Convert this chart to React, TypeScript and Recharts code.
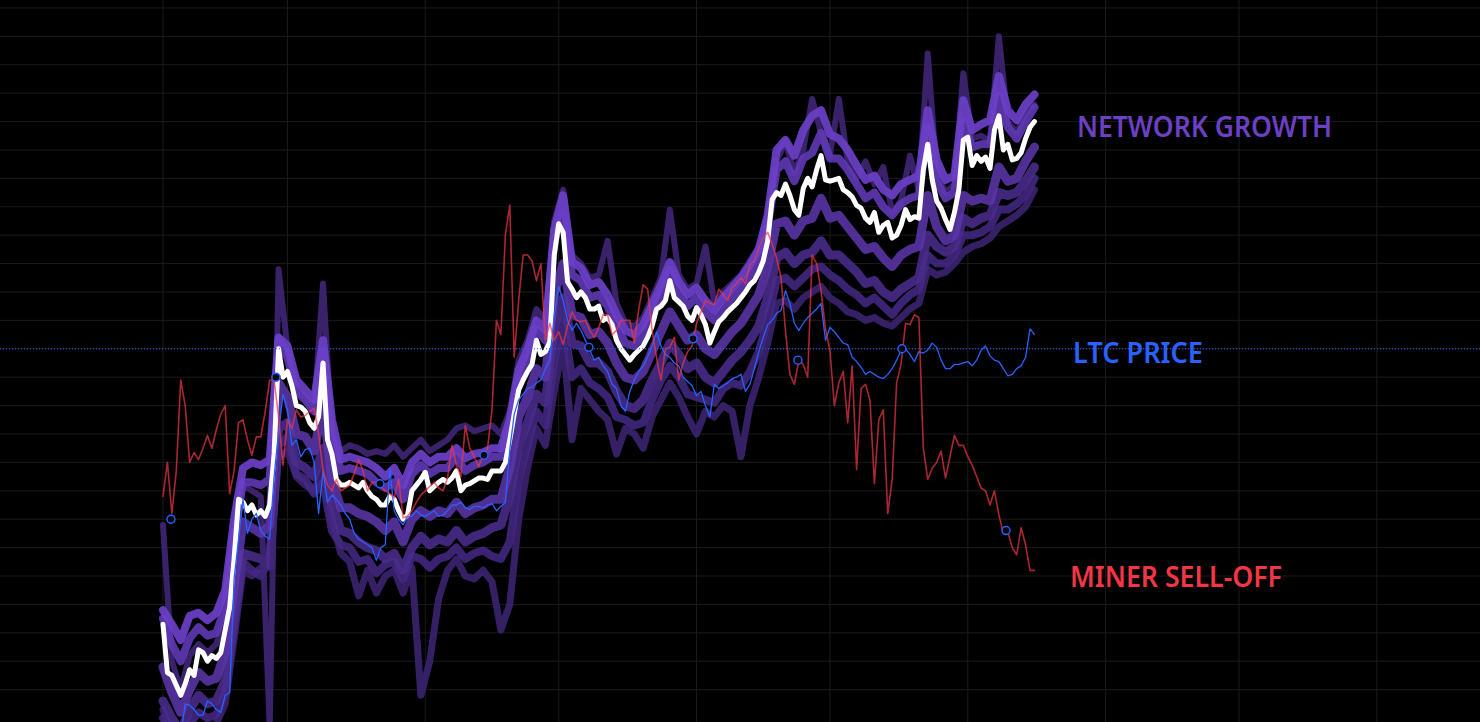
import React from "react";
import { ComposedChart, Line, Scatter, XAxis, YAxis, CartesianGrid, ReferenceLine } from "recharts";

// x: days since 1 Feb (daily); y: chart level units (one grid step = 1)
const days = [
  0, 1, 2, 3, 4, 5, 6, 7, 8, 9, 10, 11, 12, 13, 14, 15, 16, 17, 18, 19,
  20, 21, 22, 23, 24, 25, 26, 27, 28, 29, 30, 31, 32, 33, 34, 35, 36, 37, 38, 39,
  40, 41, 42, 43, 44, 45, 46, 47, 48, 49, 50, 51, 52, 53, 54, 55, 56, 57, 58, 59,
  60, 61, 62, 63, 64, 65, 66, 67, 68, 69, 70, 71, 72, 73, 74, 75, 76, 77, 78, 79,
  80, 81, 82, 83, 84, 85, 86, 87, 88, 89, 90, 91, 92, 93, 94, 95, 96, 97, 98, 99,
  100, 101, 102, 103, 104, 105, 106, 107, 108, 109, 110, 111, 112, 113, 114, 115, 116, 117, 118, 119,
  120, 121, 122, 123, 124, 125, 126, 127, 128, 129, 130, 131, 132, 133, 134, 135, 136, 137, 138, 139,
  140, 141, 142, 143, 144, 145, 146, 147, 148, 149, 150, 151, 152, 153, 154, 155, 156, 157, 158, 159,
  160, 161, 162, 163, 164, 165, 166, 167, 168, 169, 170, 171, 172, 173, 174, 175, 176, 177, 178, 179,
  180, 181, 182, 183, 184, 185, 186, 187, 188, 189, 190, 191, 192, 193, 194, 195, 196,
];

// daily series
const networkGrowth = [
  3.3, 1.6, 1.5, 1.15, 0.8, 1.2, 1.7, 1.5, 2.4, 2.3, 2.0, 2.2, 2.1, 2.3, 3.1, 3.9, 5.6, 7.7, 7.6, 7.3,
  7.5, 7.15, 7.3, 7.1, 7.5, 9.3, 13.0, 12.0, 12.2, 11.7, 11.0, 10.95, 10.8, 10.4, 10.2, 10.6, 12.5, 9.8, 9.3, 8.4,
  8.2, 8.2, 8.3, 8.2, 8.1, 8.3, 8.0, 7.8, 7.7, 7.5, 7.5, 7.8, 7.7, 7.3, 7.0, 7.15, 8.0, 8.2, 8.4, 8.65,
  8.0, 8.15, 8.3, 8.4, 8.3, 8.45, 8.7, 8.0, 8.2, 8.25, 8.35, 8.45, 8.45, 8.4, 8.7, 8.7, 8.7, 9.0, 9.8, 10.7,
  11.55, 11.9, 12.2, 12.45, 13.3, 12.8, 12.9, 13.25, 16.3, 17.4, 17.1, 15.35, 15.1, 14.8, 15.0, 14.8, 14.4, 14.4, 14.5, 14.0,
  14.1, 13.85, 13.3, 13.0, 12.8, 12.6, 12.8, 12.95, 13.1, 13.4, 13.8, 14.4, 14.5, 14.7, 15.4, 14.8, 14.65, 14.5, 14.15, 14.0,
  14.45, 14.2, 13.85, 13.2, 13.6, 13.95, 14.1, 14.3, 14.45, 14.6, 14.8, 15.0, 15.25, 15.4, 15.7, 16.1, 16.8, 18.25, 18.5, 18.4,
  18.8, 18.4, 17.9, 17.7, 18.65, 19.0, 18.7, 19.3, 19.8, 18.95, 18.9, 18.95, 19.0, 18.6, 18.5, 18.35, 18.05, 17.95, 17.6, 17.45,
  17.8, 17.1, 17.35, 17.45, 16.9, 17.0, 17.35, 17.9, 17.55, 17.65, 17.6, 19.3, 20.2, 18.95, 18.2, 17.95, 17.55, 17.2, 17.8, 18.6,
  20.35, 20.45, 19.45, 19.8, 19.6, 19.75, 19.35, 20.7, 21.2, 20.0, 20.2, 19.65, 19.7, 19.9, 20.4, 20.8, 21.0,
];

const ltcPrice = [
  -0.4, -0.5, -0.4, -0.3, -0.6, 0.5, 0.45, 0.3, 0.1, 0.1, 0.6, 0.5, 0.3, 0.2, 0.8, 0.9, 4.9, 6.3, 7.7, 6.5,
  7.0, 7.2, 6.6, 6.4, 6.3, 8.5, 10.1, 11.4, 10.85, 9.6, 9.8, 9.2, 9.45, 9.5, 9.0, 7.2, 8.7, 7.6, 7.85, 7.7,
  7.5, 7.2, 7.0, 6.5, 6.3, 6.2, 6.1, 6.0, 5.55, 6.0, 6.1, 8.8, 7.3, 7.0, 6.8, 7.1, 7.1, 7.3, 7.15, 7.1,
  7.2, 7.3, 7.1, 7.15, 7.3, 7.5, 7.5, 7.6, 7.4, 7.35, 7.45, 7.45, 7.4, 7.5, 7.55, 7.3, 7.45, 7.6, 9.45, 10.7,
  11.2, 11.4, 11.6, 11.65, 11.8, 11.9, 12.3, 12.6, 14.2, 15.2, 14.7, 14.0, 13.65, 13.9, 13.65, 13.3, 12.95, 12.6, 12.7, 12.4,
  12.2, 11.75, 11.6, 11.0, 10.8, 11.5, 11.9, 12.2, 12.4, 12.7, 13.1, 13.6, 13.1, 12.8, 12.7, 12.5, 12.4, 12.0, 11.85, 11.7,
  11.35, 11.5, 11.0, 10.6, 11.75, 11.6, 11.7, 11.8, 11.95, 12.0, 12.1, 11.5, 11.75, 12.3, 12.9, 13.4, 13.85, 14.0, 14.25, 14.35,
  15.05, 14.6, 13.9, 13.65, 13.9, 14.1, 14.25, 14.4, 14.6, 13.3, 13.75, 13.6, 13.4, 13.2, 13.15, 12.7, 12.55, 12.35, 12.1, 12.2,
  12.1, 12.0, 11.95, 12.1, 12.3, 12.6, 12.95, 13.0, 12.8, 12.55, 12.9, 12.85, 12.95, 13.2, 13.05, 12.6, 12.3, 12.3, 12.45, 12.45,
  12.5, 12.55, 12.4, 12.6, 12.95, 13.1, 12.75, 12.6, 12.55, 12.3, 12.05, 12.1, 12.3, 12.4, 12.7, 13.7, 13.5,
];

const minerSellOff = [
  7.8, 9.0, 7.2, 8.7, 11.9, 11.0, 9.0, 9.35, 9.1, 9.5, 9.95, 9.5, 10.15, 10.7, 11.0, 7.9, 8.7, 10.4, 10.5, 9.8,
  9.25, 9.9, 9.9, 10.8, 11.9, 11.9, 10.6, 8.9, 10.5, 10.2, 10.85, 10.6, 10.65, 10.8, 10.9, 10.0, 8.7, 8.2, 8.0, 8.4,
  8.0, 8.1, 8.2, 8.6, 9.1, 8.7, 8.0, 8.3, 8.3, 8.15, 8.0, 7.9, 7.75, 8.4, 7.05, 7.1, 7.3, 7.6, 7.85, 8.0,
  8.15, 8.3, 8.1, 8.0, 8.45, 9.6, 8.9, 8.5, 10.3, 9.5, 9.2, 8.85, 9.25, 9.5, 10.85, 14.0, 13.5, 17.0, 18.05, 12.7,
  14.7, 16.3, 16.3, 16.1, 15.4, 16.0, 13.3, 13.9, 13.3, 13.6, 13.15, 13.8, 14.3, 14.0, 13.95, 14.0, 13.65, 13.4, 13.75, 14.2,
  14.2, 13.5, 13.65, 14.0, 14.0, 14.0, 13.2, 14.4, 15.25, 15.1, 13.65, 12.7, 11.9, 13.0, 13.05, 13.4, 11.9, 12.5, 12.9, 13.1,
  13.9, 14.3, 14.7, 14.6, 14.55, 15.1, 14.9, 14.7, 15.15, 15.3, 15.5, 15.3, 15.95, 16.1, 16.55, 16.9, 17.1, 16.7, 16.2, 15.5,
  13.65, 12.1, 11.75, 12.6, 12.45, 12.0, 16.3, 16.0, 15.05, 13.7, 12.95, 11.0, 11.8, 12.2, 10.4, 12.4, 8.75, 11.6, 11.75, 11.2,
  8.25, 10.5, 10.85, 7.2, 8.4, 11.8, 12.45, 13.9, 13.85, 14.2, 14.1, 9.5, 8.4, 8.8, 9.0, 9.4, 8.45, 9.2, 9.95, 9.6,
  9.6, 9.2, 8.9, 8.5, 8.1, 8.0, 7.5, 8.0, 7.15, 6.5, 6.55, 6.0, 5.75, 6.7, 6.1, 5.2, 5.2,
];

// network-growth band components (every second day: 0, 2, 4 ... 196)
const bandUpper = [
  3.8, 3.3, 2.75, 3.6, 3.7, 3.45, 3.7, 4.5, 7.0, 8.8,
  9.0, 8.9, 9.1, 13.4, 13.1, 11.9, 11.55, 11.2, 13.3, 10.5,
  9.1, 9.2, 9.1, 9.0, 8.8, 8.5, 8.8, 8.2, 9.0, 9.3,
  9.0, 9.2, 9.2, 9.5, 9.15, 9.3, 9.35, 9.5, 9.5, 10.5,
  12.25, 13.0, 14.0, 13.65, 17.2, 18.4, 16.05, 15.85, 15.25, 15.35,
  14.9, 14.2, 13.65, 13.5, 13.85, 14.55, 15.25, 16.05, 15.35, 14.9,
  15.15, 14.7, 14.35, 14.8, 15.15, 15.5, 15.95, 16.5, 17.7, 20.0,
  20.35, 19.8, 20.7, 21.2, 21.4, 20.55, 20.4, 20.0, 19.45, 18.95,
  19.1, 18.6, 18.4, 18.8, 18.95, 19.1, 21.4, 19.65, 18.95, 19.1,
  21.75, 20.7, 20.9, 21.05, 22.6, 21.4, 21.05, 21.6, 21.95,
];

const bandUpperInner = [
  3.5, 2.6, 2.0, 2.8, 3.2, 2.9, 3.0, 3.9, 6.4, 8.3,
  8.3, 8.2, 8.4, 13.3, 12.7, 11.5, 11.2, 10.8, 12.9, 9.9,
  8.7, 8.8, 8.7, 8.6, 8.3, 8.1, 8.3, 7.7, 8.6, 8.9,
  8.6, 8.8, 8.8, 9.2, 8.7, 8.9, 9.0, 9.2, 9.2, 10.2,
  11.9, 12.6, 13.7, 13.3, 16.8, 17.8, 15.6, 15.4, 14.8, 14.9,
  14.5, 13.8, 13.2, 13.1, 13.5, 14.2, 14.9, 15.8, 15.0, 14.5,
  14.8, 14.3, 14.0, 14.4, 14.8, 15.1, 15.6, 16.1, 17.3, 19.3,
  19.6, 18.9, 19.7, 19.9, 20.6, 19.7, 19.7, 19.3, 18.8, 18.3,
  18.5, 18.0, 17.7, 18.1, 18.3, 18.4, 20.8, 18.9, 18.3, 18.5,
  21.0, 20.1, 20.2, 20.2, 21.9, 20.8, 20.4, 21.0, 21.5,
];

const bandMid = [
  1.8, 0.9, 0.2, 1.0, 1.6, 1.3, 1.4, 2.3, 4.6, 6.9,
  6.7, 6.5, 6.8, 11.8, 11.3, 10.0, 9.9, 9.4, 11.0, 8.4,
  7.4, 7.4, 7.2, 7.1, 6.9, 6.6, 6.9, 6.2, 7.0, 7.3,
  7.1, 7.3, 7.2, 7.6, 7.2, 7.4, 7.5, 7.7, 7.7, 8.8,
  10.6, 11.3, 12.3, 12.0, 14.9, 16.0, 14.2, 14.1, 13.5, 13.6,
  13.2, 12.5, 12.0, 11.9, 12.2, 12.9, 13.6, 14.3, 13.8, 13.3,
  13.5, 13.0, 12.8, 13.2, 13.6, 13.9, 14.4, 14.9, 15.9, 17.4,
  17.5, 17.0, 17.5, 17.6, 18.3, 17.6, 17.7, 17.3, 16.9, 16.5,
  16.6, 16.2, 15.9, 16.3, 16.5, 16.6, 18.4, 17.3, 16.8, 17.0,
  18.4, 18.2, 18.3, 18.2, 19.4, 18.9, 19.0, 19.6, 20.1,
];

const bandLow = [
  0.6, 0.0, -0.5, 0.3, 0.8, 0.5, 0.6, 1.3, 3.6, 5.8,
  5.7, 5.6, 5.4, 10.2, 10.4, 9.0, 8.8, 8.5, 9.5, 7.6,
  6.6, 6.5, 6.2, 6.0, 5.9, 5.6, 5.8, 5.2, 6.0, 6.4,
  6.1, 6.3, 6.2, 6.6, 6.2, 6.4, 6.5, 6.7, 6.8, 7.8,
  9.6, 10.4, 11.4, 11.1, 13.8, 14.8, 13.2, 13.1, 12.5, 12.5,
  12.2, 11.5, 11.0, 10.9, 11.2, 11.9, 12.5, 13.2, 12.8, 12.3,
  12.5, 12.0, 11.8, 12.2, 12.6, 12.9, 13.3, 13.8, 14.8, 16.2,
  16.4, 16.0, 16.3, 16.4, 16.8, 16.3, 16.3, 16.0, 15.7, 15.3,
  15.4, 15.0, 14.8, 15.1, 15.3, 15.5, 17.0, 16.6, 16.4, 16.6,
  17.6, 17.4, 17.6, 17.7, 18.5, 18.4, 18.5, 18.9, 19.4,
];

const bandLowInner = [
  0.0, -0.3, -0.6, -0.2, 0.2, 0.0, 0.1, 0.9, 3.2, 5.5,
  5.2, 5.0, 5.6, 9.6, 9.9, 8.6, 8.4, 7.9, 8.3, 6.6,
  6.1, 6.0, 5.5, 5.6, 5.1, 5.4, 5.5, 4.9, 5.7, 5.6,
  5.3, 5.6, 5.7, 6.0, 5.6, 5.8, 5.9, 5.7, 5.6, 6.2,
  8.4, 9.6, 10.8, 10.3, 12.6, 14.0, 12.0, 12.3, 11.8, 11.6,
  11.3, 10.6, 10.5, 10.3, 10.4, 11.2, 11.9, 12.4, 12.0, 11.4,
  11.3, 11.2, 11.1, 11.6, 11.8, 11.7, 12.2, 12.9, 14.0, 15.4,
  15.5, 15.2, 15.5, 15.8, 15.9, 15.6, 15.4, 15.1, 14.9, 14.6,
  14.8, 14.5, 14.2, 14.6, 14.9, 15.1, 16.3, 16.0, 16.0, 16.3,
  17.0, 17.0, 17.1, 17.3, 17.9, 17.9, 18.1, 18.4, 19.0,
];

const bandFloor = [
  0.3, -0.6, -0.8, -0.5, -0.3, -0.4, -0.2, 0.5, 2.8, 5.2,
  5.0, 5.3, 5.3, 9.2, 9.4, 8.5, 8.2, 8.0, 8.8, 7.0,
  5.8, 5.5, 4.3, 5.2, 4.4, 5.0, 5.2, 4.4, 5.3, 0.8,
  2.0, 4.2, 5.2, 5.6, 5.0, 4.9, 5.2, 4.8, 3.1, 4.0,
  7.0, 8.8, 10.2, 9.6, 11.5, 13.2, 9.8, 11.6, 11.2, 10.8,
  10.5, 9.3, 10.2, 10.0, 9.5, 10.6, 11.2, 11.8, 11.3, 10.6,
  10.0, 10.8, 10.6, 11.0, 10.8, 9.2, 11.0, 12.0, 13.2, 14.6,
  14.7, 14.4, 14.8, 15.0, 15.2, 14.8, 14.6, 14.3, 14.2, 14.0,
  14.1, 13.9, 13.8, 14.1, 14.4, 14.6, 15.8, 15.6, 15.7, 16.0,
  16.4, 16.6, 16.7, 16.9, 17.3, 17.5, 17.7, 18.0, 18.6,
];

const bandSpikes = [
  6.8, 2.0, 1.0, 2.2, 2.6, 2.3, 2.6, 3.6, 6.2, 8.2,
  8.0, 7.8, -0.3, 15.8, 13.0, 11.5, 11.3, 10.8, 15.3, 9.8,
  9.4, 9.6, 9.5, 9.3, 9.4, 9.3, 9.6, 9.2, 9.5, 9.8,
  9.4, 9.6, 9.8, 10.2, 10.3, 10.1, 10.2, 10.3, 10.0, 10.8,
  12.6, 13.3, 14.4, 14.0, 17.5, 18.6, 16.3, 16.0, 15.5, 15.6,
  16.8, 14.6, 13.9, 13.8, 14.1, 14.8, 15.5, 17.9, 15.6, 15.1,
  15.3, 16.6, 14.6, 15.0, 15.3, 15.6, 16.1, 16.6, 17.6, 19.6,
  20.3, 19.2, 20.0, 21.8, 20.6, 19.8, 21.8, 19.6, 19.0, 19.6,
  18.8, 19.4, 17.8, 18.2, 19.8, 18.6, 23.4, 19.2, 18.5, 18.8,
  22.7, 20.4, 20.5, 20.3, 24.0, 21.0, 20.6, 21.3, 21.6,
];

const markerDays = [1.8, 25.4, 48.8, 72.2, 95.8, 119.2, 142.8, 166.2, 189.6];
const markerValues = [7.0, 12.0, 8.25, 9.25, 13.05, 13.35, 12.6, 13.0, 6.6];

const monthTicks = [0, 28, 59, 89, 120, 150, 181, 212, 242, 273];
const levelTicks = [0, 1, 2, 3, 4, 5, 6, 7, 8, 9, 10, 11, 12, 13, 14, 15, 16, 17, 18, 19, 20, 21, 22, 23, 24, 25];
const ltcLevel = 13;
const xDomain = [-36.65, 296.2];
const yDomain = [-0.14, 25.28];

const band = (arr: number[], i: number) => (i % 2 === 0 ? arr[i / 2] : null);

const rows = days.map((day, i) => ({
  day,
  white: networkGrowth[i],
  ltc: ltcPrice[i],
  miner: minerSellOff[i],
  upper: band(bandUpper, i),
  upperInner: band(bandUpperInner, i),
  mid: band(bandMid, i),
  low: band(bandLow, i),
  lowInner: band(bandLowInner, i),
  floor: band(bandFloor, i),
  spikes: band(bandSpikes, i),
}));

const markers = markerDays.map((day, i) => ({ day, v: markerValues[i] }));

const W = 1480;
const H = 722;

const MarkerShape = (props: any) => {
  if (props.cx == null || props.cy == null) return null;
  return <circle cx={props.cx} cy={props.cy} r={4} fill="#05070e" stroke="#2962ff" strokeWidth={1.4} />;
};

const labelFont = "'Noto Sans', 'Open Sans', sans-serif";

export default function App() {
  const common = {
    dot: false,
    activeDot: false,
    isAnimationActive: false,
    connectNulls: true,
    type: "linear" as const,
    strokeLinejoin: "round" as const,
    strokeLinecap: "round" as const,
  };
  return (
    <div style={{ position: "absolute", left: 0, top: 0, width: W, height: H, background: "#000", overflow: "hidden" }}>
      <ComposedChart width={W} height={H} data={rows} margin={{ top: 0, right: 0, bottom: 0, left: 0 }} style={{ background: "#000" }}>
        <CartesianGrid stroke="#1b1b1b" strokeWidth={1} verticalValues={monthTicks} horizontalValues={levelTicks} />
        <XAxis dataKey="day" type="number" domain={xDomain} allowDataOverflow hide ticks={monthTicks} />
        <YAxis type="number" domain={yDomain} allowDataOverflow hide ticks={levelTicks} />
        <Line {...common} dataKey="floor" stroke="#3b2370" strokeOpacity={0.9} strokeWidth={7} />
        <Line {...common} dataKey="lowInner" stroke="#432883" strokeOpacity={0.88} strokeWidth={8} />
        <Line {...common} dataKey="low" stroke="#4a2c8c" strokeOpacity={0.88} strokeWidth={9} />
        <Line {...common} dataKey="spikes" stroke="#3f2676" strokeOpacity={0.9} strokeWidth={6} />
        <Line {...common} dataKey="mid" stroke="#5a35a8" strokeOpacity={0.88} strokeWidth={9} />
        <Line {...common} dataKey="upperInner" stroke="#5f38b5" strokeOpacity={0.9} strokeWidth={8} />
        <Line {...common} dataKey="upper" stroke="#6b40c8" strokeOpacity={0.92} strokeWidth={8} />
        <Line {...common} dataKey="white" stroke="#ffffff" strokeWidth={5} />
        <Line {...common} dataKey="ltc" stroke="#2962ff" strokeWidth={1.3} />
        <Line {...common} dataKey="miner" stroke="#f23645" strokeOpacity={0.7} strokeWidth={1.6} />
        <ReferenceLine y={ltcLevel} stroke="#2962ff" strokeWidth={1} strokeDasharray="1 2" />
        <Scatter data={markers} dataKey="v" shape={MarkerShape} isAnimationActive={false} />
      </ComposedChart>
      <svg width={W} height={H} style={{ position: "absolute", left: 0, top: 0, pointerEvents: "none" }}>
        <text x={1077} y={137} fill="#6b40c3" fontFamily={labelFont} fontWeight={600} fontSize={29} textLength={255} lengthAdjust="spacingAndGlyphs">NETWORK GROWTH</text>
        <text x={1073} y={363} fill="#2962ff" fontFamily={labelFont} fontWeight={600} fontSize={29} textLength={130} lengthAdjust="spacingAndGlyphs">LTC PRICE</text>
        <text x={1070} y={587} fill="#f23645" fontFamily={labelFont} fontWeight={600} fontSize={29} textLength={212} lengthAdjust="spacingAndGlyphs">MINER SELL-OFF</text>
      </svg>
    </div>
  );
}
